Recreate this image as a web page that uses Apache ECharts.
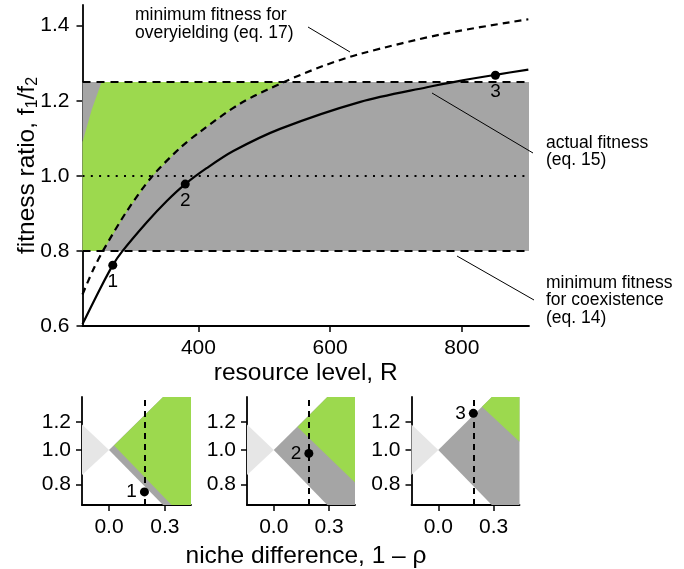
<!DOCTYPE html>
<html>
<head>
<meta charset="utf-8">
<script src="https://cdn.jsdelivr.net/npm/echarts@6/dist/echarts.min.js"></script>
<style>
  html, body { margin: 0; background: #fff; }
  #chart { width: 684px; height: 569px; }
</style>
</head>
<body>
<div id="chart"></div>
<script>
// values
const resourceMin = 224, resourceMax = 902;
const fitnessMin = 0.6, fitnessMax = 1.455;
const fitnessTicks = [0.6, 0.8, 1.0, 1.2, 1.4];
const resourceTicks = [400, 600, 800];

// actual fitness ratio (eq. 15)
const actualR = [224, 251, 270, 284, 322, 352, 380, 413, 453, 524, 646, 747, 797, 851, 901];
const actualF = [0.605, 0.70, 0.762, 0.798, 0.877, 0.933, 0.978, 1.021, 1.066, 1.125, 1.197, 1.236, 1.253, 1.269, 1.283];

// minimum fitness for overyielding (eq. 17)
const overyieldR = [224, 240, 255, 291, 329, 372, 403, 463, 530, 590, 646, 772, 901];
const overyieldF = [0.684, 0.749, 0.80, 0.905, 0.997, 1.074, 1.118, 1.192, 1.25, 1.293, 1.325, 1.378, 1.417];

// left edge of the green area
const wedgeR = [224, 238, 253];
const wedgeF = [1.09, 1.176, 1.25];

// coexistence band (eq. 14)
const coexLow = 0.8, coexHigh = 1.25, evenFitness = 1.0;

const pointR = [270, 380, 851];
const pointF = [0.762, 0.978, 1.268];
const pointNames = ['1', '2', '3'];

// small panels
const nicheDiff = 0.19;
const nicheMin = -0.145, nicheMax = 0.44;
const panelFitMin = 0.70, panelFitMax = 1.41;
const nicheTicks = [0, 0.3];
const panelFitTicks = [0.8, 1.0, 1.2];
const priorityTri = [[-0.145, 1.18], [0, 1.0], [-0.145, 0.85]];
const coexRegion = [[0, 1.0], [0.29, 1.41], [0.44, 1.41], [0.44, 0.70], [0.29, 0.70]];
const overyieldRegions = [
    [[0.027, 1.03], [0.29, 1.41], [0.44, 1.41], [0.44, 0.70], [0.336, 0.70]],
    [[0.129, 1.16], [0.29, 1.41], [0.44, 1.41], [0.44, 0.81]],
    [[0.237, 1.323], [0.29, 1.41], [0.44, 1.41], [0.44, 1.055]]
];

const FONT = '"Liberation Sans", Arial, sans-serif';
const GREEN = '#9cd94e', GRAY = '#a5a5a5', LIGHT = '#e6e6e6';

const chart = echarts.init(document.getElementById('chart'));

function polygonSeries(idx, pts, color, z) {
    return {
        type: 'custom',
        xAxisIndex: idx,
        yAxisIndex: idx,
        silent: true,
        z: z,
        data: pts,
        renderItem: function(params, api) {
            if (params.dataIndex !== 0) return null;
            return {
                type: 'polygon',
                shape: { points: pts.map(function(p) { return api.coord(p); }) },
                style: { fill: color }
            };
        }
    };
}

function axisCommon() {
    return {
        axisLine: { onZero: false, lineStyle: { color: '#000', width: 1.8 } },
        axisTick: { show: true, inside: false, length: 6, lineStyle: { color: '#000', width: 1.5 } },
        splitLine: { show: false },
        axisLabel: { color: '#000', fontSize: 21, fontFamily: FONT }
    };
}

// green area in the main panel
const greenMain = [[resourceMin, coexLow]];
overyieldR.forEach(function(r, i) {
    if (overyieldF[i] >= coexLow && overyieldF[i] <= coexHigh + 0.01) {
        greenMain.push([r, Math.min(overyieldF[i], coexHigh)]);
    }
});
for (let i = wedgeR.length - 1; i >= 0; i--) greenMain.push([wedgeR[i], wedgeF[i]]);

const band = [[resourceMin, coexLow], [resourceMax, coexLow], [resourceMax, coexHigh], [resourceMin, coexHigh]];

const ln = Math.log;
const toLog = function(pts) { return pts.map(function(p) { return [p[0], ln(p[1])]; }); };

const grids = [
    { left: 82.5, top: 5, width: 446.5, height: 321 },
    { left: 82, top: 397, width: 109, height: 108 },
    { left: 247, top: 397, width: 108, height: 108 },
    { left: 411.5, top: 397, width: 108, height: 108 }
];

const xAxes = [Object.assign(axisCommon(), {
    gridIndex: 0, type: 'value', min: resourceMin, max: resourceMax,
    name: 'resource level, R', nameLocation: 'middle', nameGap: 35, nameMoveOverlap: false,
    nameTextStyle: { fontSize: 24.5, fontFamily: FONT, color: '#000', verticalAlign: 'top' }
})];
xAxes[0].axisLabel.customValues = resourceTicks;
xAxes[0].axisLabel.margin = 12;
xAxes[0].axisTick.customValues = resourceTicks;

const yAxes = [Object.assign(axisCommon(), {
    gridIndex: 0, type: 'value', min: fitnessMin, max: fitnessMax,
    name: '{a|fitness ratio, f}{b|1}{a|/f}{b|2}', nameLocation: 'middle', nameGap: 42, nameRotate: 90,
    nameMoveOverlap: false,
    nameTextStyle: {
        color: '#000', fontFamily: FONT,
        rich: {
            a: { fontSize: 24.5, lineHeight: 26, fontFamily: FONT, color: '#000' },
            b: { fontSize: 16, lineHeight: 16, verticalAlign: 'bottom', fontFamily: FONT, color: '#000' }
        }
    }
})];
yAxes[0].axisLabel.customValues = fitnessTicks;
yAxes[0].axisLabel.margin = 13;
yAxes[0].axisLabel.formatter = function(v) { return v.toFixed(1); };
yAxes[0].axisTick.customValues = fitnessTicks;

const pointLabel = function(pos) {
    return {
        show: true, position: pos, distance: 3, formatter: '{b}',
        fontSize: 19, fontFamily: FONT, color: '#000', opacity: 1
    };
};

const series = [
    polygonSeries(0, band, GRAY, 1),
    polygonSeries(0, greenMain, GREEN, 2),
    {
        type: 'line', xAxisIndex: 0, yAxisIndex: 0, z: 5,
        data: overyieldR.map(function(r, i) { return [r, overyieldF[i]]; }),
        smooth: 0.3, showSymbol: false, silent: true,
        lineStyle: { color: '#000', width: 2.2, type: [7, 5] },
        markLine: {
            silent: true, symbol: 'none', label: { show: false },
            data: [
                { yAxis: coexHigh, lineStyle: { color: '#000', width: 2, type: [8, 6] } },
                { yAxis: coexLow, lineStyle: { color: '#000', width: 2, type: [8, 6] } },
                { yAxis: evenFitness, lineStyle: { color: '#000', width: 2, type: [2, 6.3] } }
            ]
        }
    },
    {
        type: 'line', xAxisIndex: 0, yAxisIndex: 0, z: 6,
        data: actualR.map(function(r, i) { return [r, actualF[i]]; }),
        smooth: 0.3, showSymbol: false, silent: true,
        lineStyle: { color: '#000', width: 2.2 }
    },
    {
        type: 'scatter', xAxisIndex: 0, yAxisIndex: 0, z: 7,
        data: pointR.map(function(r, i) { return { value: [r, pointF[i]], name: pointNames[i] }; }),
        symbolSize: 9, itemStyle: { color: '#000', opacity: 1 }, silent: true,
        label: pointLabel('bottom')
    }
];

for (let k = 0; k < 3; k++) {
    const idx = k + 1;
    const xa = Object.assign(axisCommon(), { gridIndex: idx, type: 'value', min: nicheMin, max: nicheMax });
    xa.axisLabel.customValues = nicheTicks;
    xa.axisLabel.margin = 12;
    xa.axisLabel.formatter = function(v) { return v.toFixed(1); };
    xa.axisTick.customValues = nicheTicks;
    xAxes.push(xa);

    const logTicks = panelFitTicks.map(ln);
    const ya = Object.assign(axisCommon(), { gridIndex: idx, type: 'value', min: ln(panelFitMin), max: ln(panelFitMax) });
    ya.axisLabel.customValues = logTicks;
    ya.axisLabel.margin = 11;
    ya.axisLabel.formatter = function(v) { return Math.exp(v).toFixed(1); };
    ya.axisTick.customValues = logTicks;
    yAxes.push(ya);

    series.push(polygonSeries(idx, toLog(priorityTri), LIGHT, 1));
    series.push(polygonSeries(idx, toLog(coexRegion), GRAY, 2));
    series.push(polygonSeries(idx, toLog(overyieldRegions[k]), GREEN, 3));
    series.push({
        type: 'scatter', xAxisIndex: idx, yAxisIndex: idx, z: 6,
        data: [{ value: [nicheDiff, ln(pointF[k])], name: pointNames[k] }],
        symbolSize: 9, itemStyle: { color: '#000', opacity: 1 }, silent: true,
        label: pointLabel('left'),
        markLine: {
            silent: true, symbol: 'none', label: { show: false },
            lineStyle: { color: '#000', width: 2, type: [6, 5] },
            data: [{ xAxis: nicheDiff }]
        }
    });
}

const annoFont = '17.5px ' + FONT;
const option = {
    animation: false,
    backgroundColor: '#fff',
    textStyle: { fontFamily: FONT },
    grid: grids.map(function(g) { return Object.assign({ outerBoundsMode: 'none', containLabel: false }, g); }),
    xAxis: xAxes,
    yAxis: yAxes,
    series: series,
    graphic: [
        { type: 'text', x: 135, y: 6, z: 100, silent: true,
          style: { text: 'minimum fitness for\noveryielding (eq. 17)', font: annoFont, lineHeight: 18, fill: '#000', align: 'left', verticalAlign: 'top' } },
        { type: 'line', z: 100, silent: true, shape: { x1: 308, y1: 27, x2: 350, y2: 52 }, style: { stroke: '#000', lineWidth: 1 } },
        { type: 'text', x: 546, y: 134, z: 100, silent: true,
          style: { text: 'actual fitness\n(eq. 15)', font: annoFont, lineHeight: 17.5, fill: '#000', align: 'left', verticalAlign: 'top' } },
        { type: 'line', z: 100, silent: true, shape: { x1: 432, y1: 93, x2: 533, y2: 153 }, style: { stroke: '#000', lineWidth: 1 } },
        { type: 'text', x: 546, y: 274, z: 100, silent: true,
          style: { text: 'minimum fitness\nfor coexistence\n(eq. 14)', font: annoFont, lineHeight: 17.5, fill: '#000', align: 'left', verticalAlign: 'top' } },
        { type: 'line', z: 100, silent: true, shape: { x1: 457, y1: 256, x2: 534, y2: 300 }, style: { stroke: '#000', lineWidth: 1 } },
        { type: 'text', x: 306, y: 556, z: 100, silent: true,
          style: { text: 'niche difference, 1 \u2013 \u03c1', font: '24.5px ' + FONT, fill: '#000', align: 'center', verticalAlign: 'middle' } }
    ]
};

chart.setOption(option);

window.addEventListener('resize', function() {
    chart.resize();
});
</script>
</body>
</html>
